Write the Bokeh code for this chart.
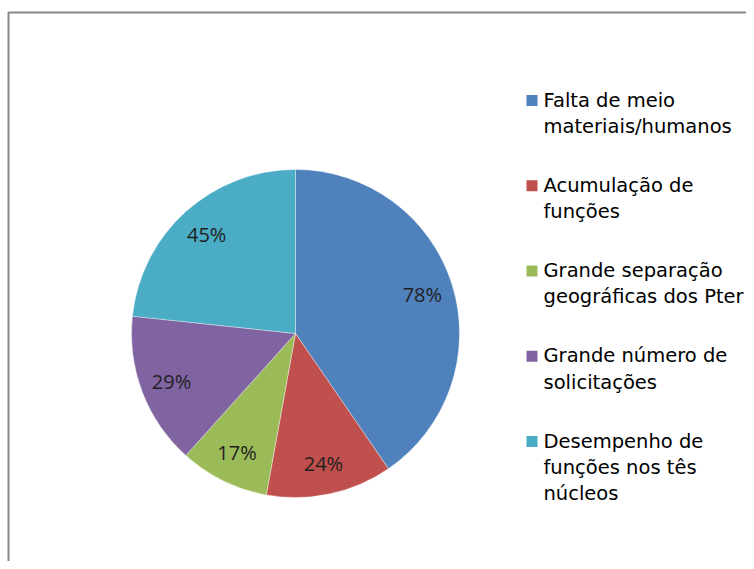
import math
from bokeh.plotting import figure
from bokeh.models import ColumnDataSource, Range1d, BoxAnnotation
from bokeh.core.properties import value
from bokeh.embed import file_html
from bokeh.resources import INLINE

# ---- data ----
categories = [
    "Falta de meio\nmateriais/humanos",
    "Acumulação de\nfunções",
    "Grande separação\ngeográficas dos Pter",
    "Grande número de\nsolicitações",
    "Desempenho de\nfunções nos tês\nnúcleos",
]
values = [78, 24, 17, 29, 45]
labels = ["78%", "24%", "17%", "29%", "45%"]
colors = ["#4F81BD", "#C0504D", "#9BBB59", "#8064A2", "#4BACC6"]

W, H = 746, 561
p = figure(width=W, height=H, output_backend="svg", toolbar_location=None,
           x_range=Range1d(0, W), y_range=Range1d(0, H), min_border=0)
p.axis.visible = False
p.grid.visible = False
p.outline_line_color = None
p.background_fill_color = "white"
p.border_fill_color = "white"

# chart-area border (extends beyond the window on the right and bottom)
p.add_layout(BoxAnnotation(left=8, right=W + 60, top=H - 12, bottom=-60,
                           fill_alpha=0, line_color="#878787", line_alpha=1.0,
                           line_width=2))

# ---- pie ----
cx, cy, R = 295, H - 333, 164
total = sum(values)
starts, ends, lx, ly = [], [], [], []
acc = 0
for v in values:
    a0 = math.pi / 2 - 2 * math.pi * acc / total
    acc += v
    a1 = math.pi / 2 - 2 * math.pi * acc / total
    starts.append(a0)
    ends.append(a1)
    mid = (a0 + a1) / 2
    lx.append(cx + 0.81 * R * math.cos(mid))
    ly.append(cy + 0.81 * R * math.sin(mid))

src = ColumnDataSource(dict(start=starts, end=ends, color=colors,
                            lx=lx, ly=ly, label=labels))
p.wedge(x=cx, y=cy, radius=R, start_angle="start", end_angle="end",
        direction="clock", fill_color="color", line_color="white",
        line_width=0.6, line_alpha=0.6, source=src)
p.text(x="lx", y="ly", text="label", source=src, text_align="center",
       text_baseline="middle", text_font=value("Open Sans"),
       text_font_size="20px", text_color="#1f1f1f")

# ---- legend (manual, multi-line) ----
step = 85.25
first = 101  # centre of first legend line (from top)
n = len(categories)
lsrc = ColumnDataSource(dict(
    sx=[531.5] * n,
    sy=[H - (first - 1 + i * step) for i in range(n)],
    tx=[543] * n,
    ty=[H - (first - 13 + i * step) for i in range(n)],
    text=categories, color=colors))
p.rect(x="sx", y="sy", width=11, height=11, fill_color="color",
       line_color=None, source=lsrc)
p.text(x="tx", y="ty", text="text", source=lsrc, text_align="left",
       text_baseline="top", text_font=value("DejaVu Sans"),
       text_font_size="19.5px", text_line_height=1.15, text_color="black")

open("out.html", "w").write(file_html(p, INLINE))
